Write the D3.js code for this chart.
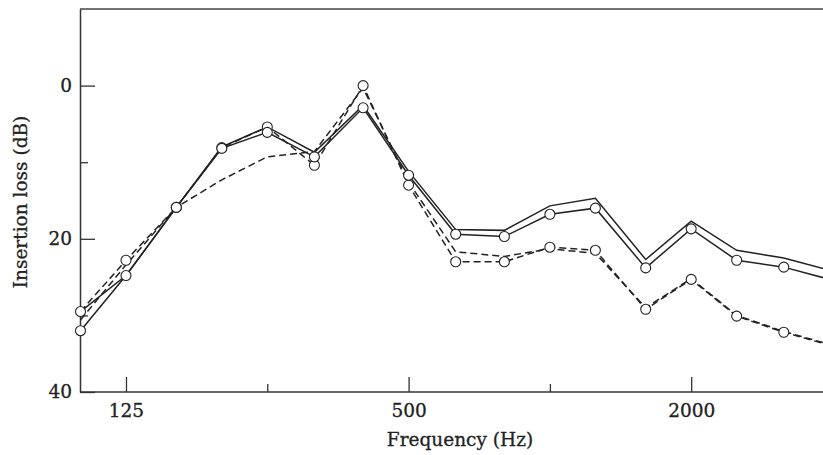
<!DOCTYPE html>
<html>
<head>
<meta charset="utf-8">
<script src="https://cdn.jsdelivr.net/npm/d3@7"></script>
<style>
  body { margin: 0; background: #fff; }
  svg text { font-family: "DejaVu Serif", serif; fill: #222; stroke: #222; stroke-width: 0.3px; }
</style>
</head>
<body>
<div id="chart"></div>
<script>
// one-third octave band centres (Hz)
const freqs = [100, 125, 160, 200, 250, 315, 400, 500, 630, 800, 1000, 1250, 1600, 2000, 2500, 3150, 4000];

// insertion loss (dB)
const solidMarked  = [32.0, 24.8, 15.9, 8.2, 6.1, 9.3, 2.9, 11.7, 19.4, 19.7, 16.8, 16.0, 23.8, 18.7, 22.8, 23.7, 25.4];
const solidPlain   = [29.5, 24.8, 15.9, 8.0, 5.4, 8.7, 2.6, 11.2, 18.8, 18.9, 15.7, 14.7, 22.7, 17.7, 21.5, 22.5, 24.2];
const dashedMarked = [29.5, 22.8, 15.9, 8.1, 5.4, 10.4, 0.0, 13.0, 23.0, 23.0, 21.1, 21.5, 29.2, 25.3, 30.1, 32.2, 34.0];
const dashedPlain  = [30.6, 23.4, 15.9, 12.3, 9.3, 8.6, 0.3, 12.6, 21.7, 22.3, 21.3, 21.9, 29.0, 25.2, 30.0, 32.1, 33.9];

const xMajor = [125, 500, 2000];
const xMinor = [250, 1000, 4000];
const yMajor = [0, 20, 40];
const yMinor = [10, 30];

const width = 823, height = 455;
const plotLeft = 80, plotTop = 9, plotBottom = 392;
const fontSize = 18.5;

const svg = d3.select("#chart")
    .append("svg")
    .attr("width", width)
    .attr("height", height);

// log frequency axis, about 141 px per octave
let x = d3.scaleLog()
    .domain([100, 4000])
    .range([plotLeft + 0.5, plotLeft + 0.5 + 141.3 * Math.log2(40)]);

// insertion loss grows downward
let y = d3.scaleLinear()
    .domain([-10, 40])
    .range([plotTop, plotBottom]);

// top border
svg.append("line")
    .attr("x1", plotLeft).attr("x2", width)
    .attr("y1", plotTop).attr("y2", plotTop)
    .attr("stroke", "#444")
    .attr("stroke-width", 1.5);

// y axis, ticks point into the plot
svg.append("g")
    .attr("transform", "translate(" + plotLeft + ",0)")
    .call(d3.axisLeft(y).tickValues(yMajor).tickSizeInner(-15).tickSizeOuter(0).tickPadding(8))
    .call(g => g.select(".domain").attr("stroke", "#333").attr("stroke-width", 1.5));
svg.append("g")
    .attr("transform", "translate(" + plotLeft + ",0)")
    .call(d3.axisLeft(y).tickValues(yMinor).tickSizeInner(-8).tickSizeOuter(0).tickFormat(""))
    .call(g => g.select(".domain").remove());

// x axis
svg.append("g")
    .attr("transform", "translate(0," + plotBottom + ")")
    .call(d3.axisBottom(x).tickValues(xMajor).tickSizeInner(-15).tickSizeOuter(0).tickPadding(12).tickFormat(d3.format("d")))
    .call(g => g.select(".domain").attr("d", "M" + plotLeft + ",0H" + width).attr("stroke", "#333").attr("stroke-width", 1.5));
svg.append("g")
    .attr("transform", "translate(0," + plotBottom + ")")
    .call(d3.axisBottom(x).tickValues(xMinor).tickSizeInner(-8).tickSizeOuter(0).tickFormat(""))
    .call(g => g.select(".domain").remove());

svg.selectAll(".tick line").attr("stroke", "#333").attr("stroke-width", 1.3);
svg.selectAll(".tick text")
    .attr("font-family", "DejaVu Serif")
    .attr("font-size", fontSize)
    .attr("fill", "#222");

// axis titles
svg.append("text")
    .attr("x", 460).attr("y", 446)
    .attr("text-anchor", "middle")
    .attr("font-size", fontSize)
    .text("Frequency (Hz)");

svg.append("text")
    .attr("transform", "translate(27,202) rotate(-90)")
    .attr("text-anchor", "middle")
    .attr("font-size", fontSize)
    .text("Insertion loss (dB)");

// series
const series = [
    {values: solidPlain, dash: null, marks: false},
    {values: dashedPlain, dash: "7,4", marks: false},
    {values: dashedMarked, dash: "7,4", marks: true},
    {values: solidMarked, dash: null, marks: true}
];

let line = d3.line()
    .x(function (d, i) { return x(freqs[i]); })
    .y(function (d) { return y(d); });

let plot = svg.append("g");

series.forEach(function (s) {
    plot.append("path")
        .datum(s.values)
        .attr("fill", "none")
        .attr("stroke", "#222")
        .attr("stroke-width", 1.5)
        .attr("stroke-dasharray", s.dash)
        .attr("d", line);
});

// open circle markers on top of all lines
series.filter(s => s.marks).forEach(function (s) {
    plot.append("g")
        .selectAll("circle")
        .data(s.values)
        .join("circle")
        .attr("cx", (d, i) => x(freqs[i]))
        .attr("cy", d => y(d))
        .attr("r", 5)
        .attr("fill", "#fff")
        .attr("stroke", "#222")
        .attr("stroke-width", 1.1);
});
</script>
</body>
</html>
